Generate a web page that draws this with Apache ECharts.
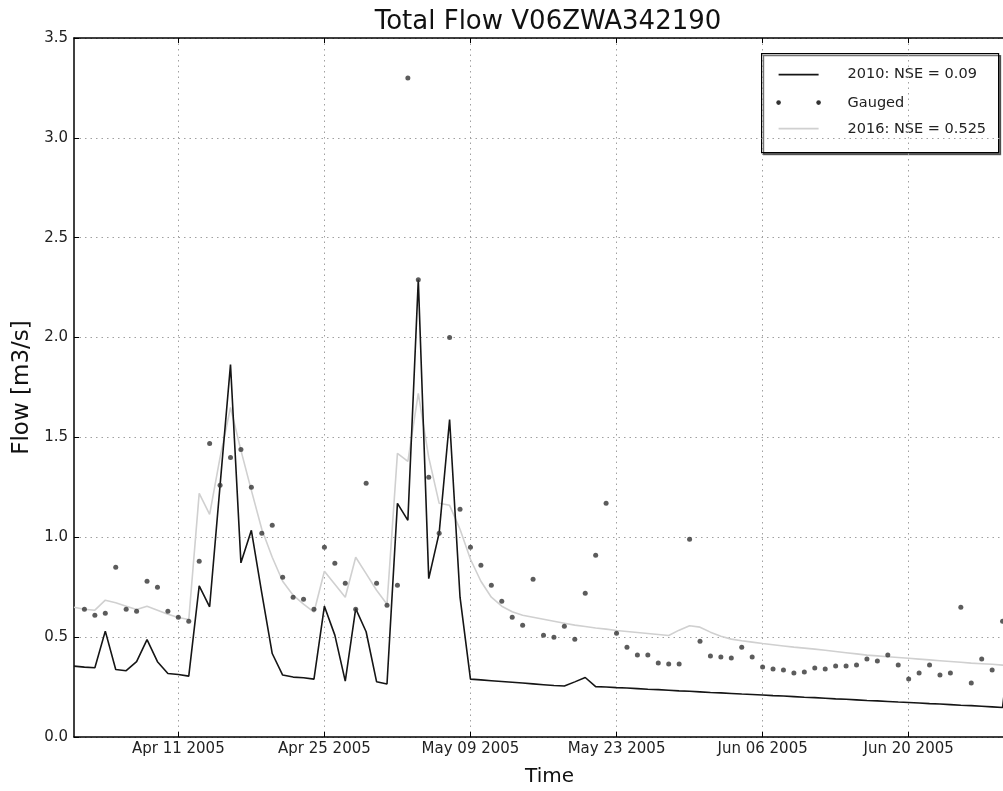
<!DOCTYPE html>
<html>
<head>
<meta charset="utf-8">
<script src="https://cdn.jsdelivr.net/npm/echarts@6/dist/echarts.min.js"></script>
<style>html,body{margin:0;padding:0;background:#fff}#c{width:1003px;height:791px}</style>
</head>
<body>
<div id="c"></div>
<script>
// ---- data (daily, starting Apr 01 2005) ----
const startDate = [2005, 3, 1]; // Apr 1 2005 (month 0-based)
const nDays = 91;               // Apr 1 .. Jun 30
const tickLabels = ['Apr 11 2005', 'Apr 25 2005', 'May 09 2005', 'May 23 2005', 'Jun 06 2005', 'Jun 20 2005'];
const yTicks = [0, 0.5, 1.0, 1.5, 2.0, 2.5, 3.0, 3.5];

const sim2010 = [
  0.355, 0.35, 0.347, 0.53, 0.338, 0.332, 0.377, 0.488, 0.377, 0.318,
  0.313, 0.305, 0.757, 0.652, 1.26, 1.865, 0.872, 1.035, 0.72, 0.418,
  0.31, 0.30, 0.297, 0.29, 0.655, 0.51, 0.28, 0.643, 0.527, 0.277,
  0.265, 1.17, 1.085, 2.29, 0.793, 1.022, 1.59, 0.70, 0.29, 0.286,
  0.282, 0.278, 0.274, 0.270, 0.266, 0.262, 0.258, 0.255, 0.276, 0.298,
  0.252, 0.250, 0.247, 0.245, 0.242, 0.239, 0.237, 0.234, 0.231, 0.229,
  0.226, 0.223, 0.221, 0.218, 0.215, 0.213, 0.210, 0.207, 0.205, 0.202,
  0.199, 0.197, 0.194, 0.191, 0.189, 0.186, 0.183, 0.181, 0.178, 0.175,
  0.173, 0.170, 0.167, 0.165, 0.162, 0.159, 0.157, 0.154, 0.151, 0.148,
  0.6
];
const gauged = [
  null, 0.64, 0.61, 0.62, 0.85, 0.64, 0.63, 0.78, 0.75, 0.63,
  0.60, 0.58, 0.88, 1.47, 1.26, 1.40, 1.44, 1.25, 1.02, 1.06,
  0.80, 0.70, 0.69, 0.64, 0.95, 0.87, 0.77, 0.64, 1.27, 0.77,
  0.66, 0.76, 3.30, 2.29, 1.30, 1.02, 2.00, 1.14, 0.95, 0.86,
  0.76, 0.68, 0.60, 0.56, 0.79, 0.51, 0.50, 0.555, 0.49, 0.72,
  0.91, 1.17, 0.52, 0.45, 0.41, 0.41, 0.37, 0.365, 0.365, 0.99,
  0.48, 0.405, 0.40, 0.395, 0.45, 0.40, 0.35, 0.34, 0.335, 0.32,
  0.325, 0.345, 0.34, 0.355, 0.355, 0.36, 0.39, 0.38, 0.41, 0.36,
  0.29, 0.32, 0.36, 0.31, 0.32, 0.65, 0.27, 0.39, 0.335, 0.58,
  null
];
const sim2016 = [
  0.65, 0.64, 0.635, 0.685, 0.672, 0.655, 0.638, 0.655, 0.635, 0.615,
  0.598, 0.588, 1.22, 1.115, 1.40, 1.65, 1.435, 1.235, 1.04, 0.90,
  0.78, 0.71, 0.665, 0.625, 0.83, 0.765, 0.70, 0.90, 0.818, 0.735,
  0.665, 1.42, 1.38, 1.72, 1.40, 1.17, 1.16, 1.04, 0.89, 0.78,
  0.70, 0.655, 0.627, 0.61, 0.60, 0.59, 0.58, 0.57, 0.56, 0.553,
  0.546, 0.54, 0.533, 0.528, 0.523, 0.518, 0.513, 0.508, 0.535, 0.557,
  0.55, 0.525, 0.505, 0.49, 0.482, 0.475, 0.468, 0.462, 0.456, 0.45,
  0.445, 0.44, 0.434, 0.428, 0.422, 0.416, 0.41, 0.406, 0.402, 0.398,
  0.394, 0.39, 0.386, 0.382, 0.378, 0.374, 0.37, 0.367, 0.364, 0.36,
  0.36
];
const seriesNames = ['2010: NSE = 0.09', 'Gauged', '2016: NSE = 0.525'];

// ---- build category labels ----
const MON = ['Jan','Feb','Mar','Apr','May','Jun','Jul','Aug','Sep','Oct','Nov','Dec'];
const categories = [];
for (let i = 0; i < nDays; i++) {
  const d = new Date(Date.UTC(startDate[0], startDate[1], startDate[2] + i));
  categories.push(MON[d.getUTCMonth()] + ' ' + String(d.getUTCDate()).padStart(2, '0') + ' ' + d.getUTCFullYear());
}
const isTick = (idx, val) => tickLabels.indexOf(categories[idx]) >= 0;

const FONT = 'DejaVu Sans';
const chart = echarts.init(document.getElementById('c'), null, { renderer: 'canvas' });

const gridLine = { show: true, lineStyle: { color: '#a0a0a0', type: [1.5, 4], width: 1 } };

chart.setOption({
  animation: false,
  backgroundColor: '#fff',
  title: {
    text: 'Total Flow V06ZWA342190',
    left: 543, top: 4, textAlign: 'center',
    textStyle: { fontFamily: FONT, fontSize: 26, fontWeight: 'normal', color: '#111' }
  },
  grid: { left: 74, width: 939, top: 38, bottom: 54, containLabel: false, outerBoundsMode: 'none' },
  xAxis: [{
    type: 'category', data: categories, boundaryGap: false,
    position: 'bottom',
    name: 'Time', nameLocation: 'middle', nameGap: 30,
    nameTextStyle: { fontFamily: FONT, fontSize: 20, color: '#111', padding: [0, 0, 0, 12] },
    axisLine: { show: true, onZero: false, lineStyle: { color: '#000', width: 1.5 } },
    axisTick: { show: true, inside: true, length: 5, interval: isTick, lineStyle: { color: '#000' } },
    axisLabel: { show: true, interval: isTick, fontFamily: FONT, fontSize: 15, color: '#222', margin: 5 },
    splitLine: Object.assign({ interval: isTick }, gridLine)
  }, {
    type: 'category', data: categories, boundaryGap: false,
    position: 'top',
    axisLine: { show: true, onZero: false, lineStyle: { color: '#000', width: 1.5 } },
    axisTick: { show: true, inside: true, length: 5, interval: isTick, lineStyle: { color: '#000' } },
    axisLabel: { show: false },
    splitLine: { show: false }
  }],
  yAxis: [{
    type: 'value', min: 0, max: 3.5, interval: 0.5,
    name: 'Flow [m3/s]', nameLocation: 'middle', nameGap: 40, nameRotate: 90,
    nameTextStyle: { fontFamily: FONT, fontSize: 23, color: '#111' },
    axisLine: { show: true, onZero: false, lineStyle: { color: '#000', width: 1.5 } },
    axisTick: { show: true, inside: true, length: 5, lineStyle: { color: '#000' } },
    axisLabel: { fontFamily: FONT, fontSize: 15, color: '#222', margin: 6, formatter: v => v.toFixed(1) },
    splitLine: gridLine
  }, {
    type: 'value', min: 0, max: 3.5, interval: 0.5, position: 'right',
    axisLine: { show: true, onZero: false, lineStyle: { color: '#000', width: 1.5 } },
    axisTick: { show: true, inside: true, length: 5 },
    axisLabel: { show: false }, splitLine: { show: false }
  }],
  series: [{
    name: seriesNames[2], type: 'line', data: sim2016, xAxisIndex: 0, yAxisIndex: 0,
    symbol: 'none', lineStyle: { color: '#d0d0d0', width: 1.6 }, z: 2
  }, {
    name: seriesNames[0], type: 'line', data: sim2010, xAxisIndex: 0, yAxisIndex: 0,
    symbol: 'none', lineStyle: { color: '#151515', width: 1.6 }, z: 3
  }, {
    name: seriesNames[1], type: 'scatter', data: gauged, xAxisIndex: 0, yAxisIndex: 0,
    symbol: 'circle', symbolSize: 5, itemStyle: { color: '#333' }, z: 4
  }],
  graphic: [{
    type: 'group', left: 761, top: 53, z: 100,
    children: [
      { type: 'rect', shape: { x: 0, y: 0, width: 237, height: 99 },
        style: { fill: '#fff', stroke: '#000', lineWidth: 1.2, shadowColor: 'rgba(0,0,0,0.55)', shadowOffsetX: 2, shadowOffsetY: 2, shadowBlur: 0 } },
      { type: 'line', shape: { x1: 17, y1: 21, x2: 57, y2: 21 }, style: { stroke: '#151515', lineWidth: 1.6 } },
      { type: 'circle', shape: { cx: 17, cy: 49, r: 2.3 }, style: { fill: '#333' } },
      { type: 'circle', shape: { cx: 57, cy: 49, r: 2.3 }, style: { fill: '#333' } },
      { type: 'line', shape: { x1: 17, y1: 75, x2: 57, y2: 75 }, style: { stroke: '#d0d0d0', lineWidth: 1.6 } },
      { type: 'text', x: 86, y: 21, style: { text: seriesNames[0], fontFamily: FONT, fontSize: 14.5, fill: '#222', verticalAlign: 'middle' } },
      { type: 'text', x: 86, y: 50, style: { text: seriesNames[1], fontFamily: FONT, fontSize: 14.5, fill: '#222', verticalAlign: 'middle' } },
      { type: 'text', x: 86, y: 76, style: { text: seriesNames[2], fontFamily: FONT, fontSize: 14.5, fill: '#222', verticalAlign: 'middle' } }
    ]
  }]
});
</script>
</body>
</html>
